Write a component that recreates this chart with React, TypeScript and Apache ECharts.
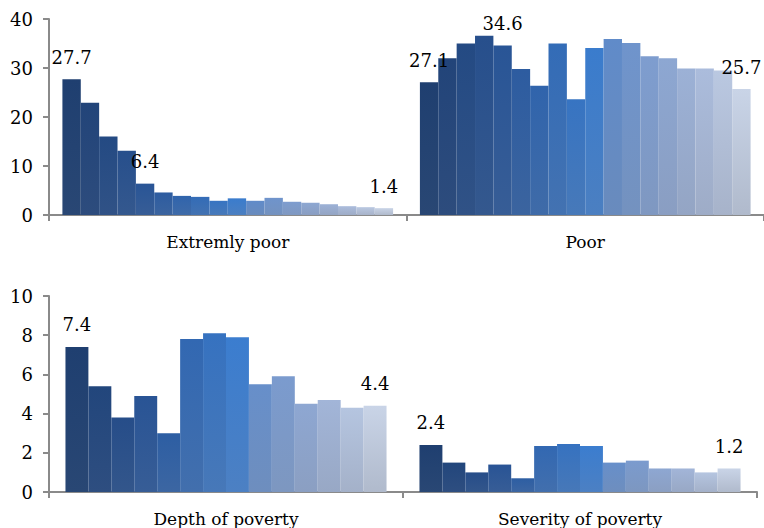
import React, { useEffect, useRef } from "react";
import * as echarts from "echarts";

// ---- Data ----
const topCategories = ["Extremly poor", "Poor"];
const extremelyPoor = [27.7, 22.9, 16.0, 13.1, 6.4, 4.6, 3.9, 3.7, 2.9, 3.4, 2.9, 3.5, 2.7, 2.5, 2.2, 1.8, 1.6, 1.4];
const poor = [27.1, 32.0, 35.0, 36.6, 34.6, 29.8, 26.4, 35.0, 23.6, 34.1, 35.9, 35.1, 32.4, 32.0, 29.9, 29.9, 29.5, 25.7];

const bottomCategories = ["Depth of poverty", "Severity of poverty"];
const depthOfPoverty = [7.4, 5.4, 3.8, 4.9, 3.0, 7.8, 8.1, 7.9, 5.5, 5.9, 4.5, 4.7, 4.3, 4.4];
const severityOfPoverty = [2.4, 1.5, 1.0, 1.4, 0.7, 2.35, 2.45, 2.35, 1.5, 1.6, 1.2, 1.2, 1.0, 1.2];

const topAxis = { min: 0, max: 40, interval: 10 };
const bottomAxis = { min: 0, max: 10, interval: 2 };

const topLabeledIdx = [0, 4, 17];
const bottomLabeledIdx = [0, 13];

// ---- Styling helpers ----
const FONT = "DejaVu Serif";

const colorStops: [number, string][] = [
  [0, "#1f3f70"],
  [0.25, "#2a5698"],
  [0.54, "#3b7dcf"],
  [0.575, "#5d89c8"],
  [0.8, "#96acd4"],
  [1, "#c9d4e7"],
];

function hexToRgb(h: string) {
  const n = parseInt(h.slice(1), 16);
  return [(n >> 16) & 255, (n >> 8) & 255, n & 255];
}
function rgbStr(c: number[]) {
  return `rgb(${c.map((v) => Math.round(v)).join(",")})`;
}
function mix(a: number[], b: number[], t: number) {
  return a.map((v, i) => v + (b[i] - v) * t);
}
function colorAt(t: number) {
  for (let i = 0; i < colorStops.length - 1; i++) {
    const [t0, c0] = colorStops[i];
    const [t1, c1] = colorStops[i + 1];
    if (t >= t0 && t <= t1) {
      const k = (t - t0) / (t1 - t0 || 1);
      return mix(hexToRgb(c0), hexToRgb(c1), k);
    }
  }
  return hexToRgb(colorStops[colorStops.length - 1][1]);
}
function barFill(i: number, n: number) {
  const t = n === 1 ? 0 : i / (n - 1);
  const top = colorAt(t);
  const bottom = mix(top, [130, 138, 155], 0.1 + 0.25 * t);
  return new echarts.graphic.LinearGradient(0, 0, 0, 1, [
    { offset: 0, color: rgbStr(top) },
    { offset: 1, color: rgbStr(bottom) },
  ]);
}

function buildSeries(
  groups: number[][],
  labeled: number[],
  axisIndex: number,
  gap: string
) {
  const n = groups[0].length;
  const out: any[] = [];
  for (let i = 0; i < n; i++) {
    out.push({
      type: "bar",
      xAxisIndex: axisIndex,
      yAxisIndex: axisIndex,
      barGap: "0%",
      barCategoryGap: gap,
      itemStyle: { color: barFill(i, n) },
      label: {
        show: false,
        position: "top",
        distance: 13,
        color: "#000",
        fontFamily: FONT,
        fontSize: 18,
      },
      data: groups.map((g) =>
        labeled.includes(i) ? { value: g[i], label: { show: true } } : g[i]
      ),
    });
  }
  return out;
}

const axisLineStyle = { color: "#8a8a8a", width: 2 };

export default function App() {
  const ref = useRef<HTMLDivElement>(null);

  useEffect(() => {
    if (!ref.current) return;
    const chart = echarts.init(ref.current, null, { renderer: "svg" });

    const xAxisCommon = {
      type: "category" as const,
      axisLine: { lineStyle: axisLineStyle },
      axisTick: { show: true, length: 6, lineStyle: axisLineStyle },
      axisLabel: { color: "#000", fontFamily: FONT, fontSize: 17, margin: 18 },
      splitLine: { show: false },
    };
    const yAxisCommon = {
      type: "value" as const,
      axisLine: { show: true, lineStyle: axisLineStyle },
      axisTick: { show: true, length: 6, lineStyle: axisLineStyle },
      axisLabel: { color: "#000", fontFamily: FONT, fontSize: 18, margin: 16 },
      splitLine: { show: false },
    };

    chart.setOption({
      animation: false,
      backgroundColor: "#fff",
      textStyle: { fontFamily: FONT },
      grid: [
        { left: 49, top: 19, width: 722, height: 196 },
        { left: 49, top: 296, width: 708, height: 196 },
      ],
      xAxis: [
        { ...xAxisCommon, gridIndex: 0, data: topCategories },
        { ...xAxisCommon, gridIndex: 1, data: bottomCategories },
      ],
      yAxis: [
        { ...yAxisCommon, gridIndex: 0, ...topAxis },
        { ...yAxisCommon, gridIndex: 1, ...bottomAxis },
      ],
      series: [
        ...buildSeries([extremelyPoor, poor], topLabeledIdx, 0, "7.5%"),
        ...buildSeries([depthOfPoverty, severityOfPoverty], bottomLabeledIdx, 1, "9.3%"),
      ],
    });

    return () => chart.dispose();
  }, []);

  return (
    <div
      ref={ref}
      style={{ position: "fixed", left: 0, top: 0, width: 764, height: 528, background: "#fff" }}
    />
  );
}
